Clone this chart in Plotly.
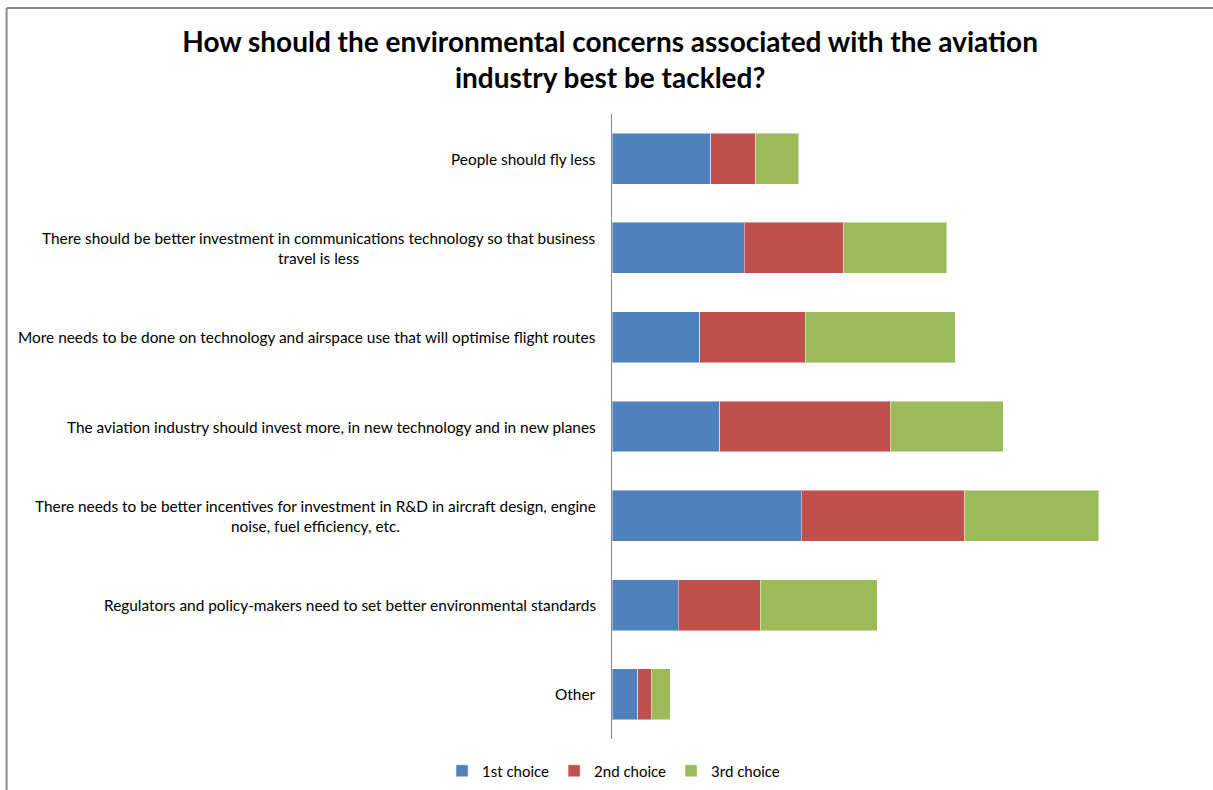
import plotly.graph_objects as go

# Survey answers, top to bottom as listed in the chart
categories = [
    "People should fly less",
    "There should be better investment in communications technology so that business<br>travel is less",
    "More needs to be done on technology and airspace use that will optimise flight routes",
    "The aviation industry should invest more, in new technology and in new planes",
    "There needs to be better incentives for investment in R&D in aircraft design, engine<br>noise, fuel efficiency, etc.",
    "Regulators and policy-makers need to set better environmental standards",
    "Other",
]
first_choice = [14.9, 19.9, 13.2, 16.2, 28.5, 10.0, 3.9]
second_choice = [6.7, 15.0, 15.9, 25.7, 24.6, 12.3, 2.0]
third_choice = [6.5, 15.5, 22.6, 17.0, 20.2, 17.6, 2.9]
series_names = ["1st choice", "2nd choice", "3rd choice"]
series_colors = ["#4F81BD", "#C0504D", "#9BBB59"]

ids = list(range(len(categories)))
FONT = "Lato"

fig = go.Figure()
for name, vals, col in zip(series_names, [first_choice, second_choice, third_choice], series_colors):
    fig.add_trace(go.Bar(
        y=ids, x=vals, name=name, orientation="h",
        marker=dict(color=col, line=dict(color="rgba(255,255,255,0.45)", width=1)),
        width=0.57,
    ))

# Category labels, right-aligned next to the axis, wrapped lines centred
for i, c in zip(ids, categories):
    fig.add_annotation(
        x=0, y=i, xref="paper", yref="y", text=c, showarrow=False,
        xanchor="right", yanchor="middle", align="center", xshift=-14,
        font=dict(family=FONT, size=15.4, color="#000000"),
    )

# Chart-area border (left and top edges visible)
fig.add_shape(type="line", xref="paper", yref="paper", x0=-1.0474, x1=1.2, y0=1.1695, y1=1.1695,
              line=dict(color="#8c8c8c", width=2))
fig.add_shape(type="line", xref="paper", yref="paper", x0=-1.0474, x1=-1.0474, y0=-0.2, y1=1.1695,
              line=dict(color="#8c8c8c", width=2))

fig.update_layout(
    width=1213, height=790,
    margin=dict(l=612, r=23, t=114, b=51),
    barmode="stack",
    bargap=0.43,
    plot_bgcolor="white", paper_bgcolor="white",
    font=dict(family=FONT, size=15, color="#000000"),
    title=dict(
        text="<b>How should the environmental concerns associated with the aviation<br>industry best be tackled?</b>",
        x=0.503, xref="container", xanchor="center",
        y=0.9345, yref="container", yanchor="middle",
        font=dict(family=FONT, size=28, color="#000000"),
    ),
    xaxis=dict(range=[0, 87], showgrid=False, showticklabels=False, zeroline=False,
               showline=False, ticks=""),
    yaxis=dict(range=[6.5, -0.5], showgrid=False, showticklabels=False, zeroline=False,
               showline=True, linecolor="#868686", linewidth=1, ticks=""),
    legend=dict(orientation="h", x=0.5058, xref="container", xanchor="center",
                y=0.024, yref="container", yanchor="middle",
                font=dict(family=FONT, size=15), traceorder="normal"),
    showlegend=True,
)

fig.write_html("out.html")
